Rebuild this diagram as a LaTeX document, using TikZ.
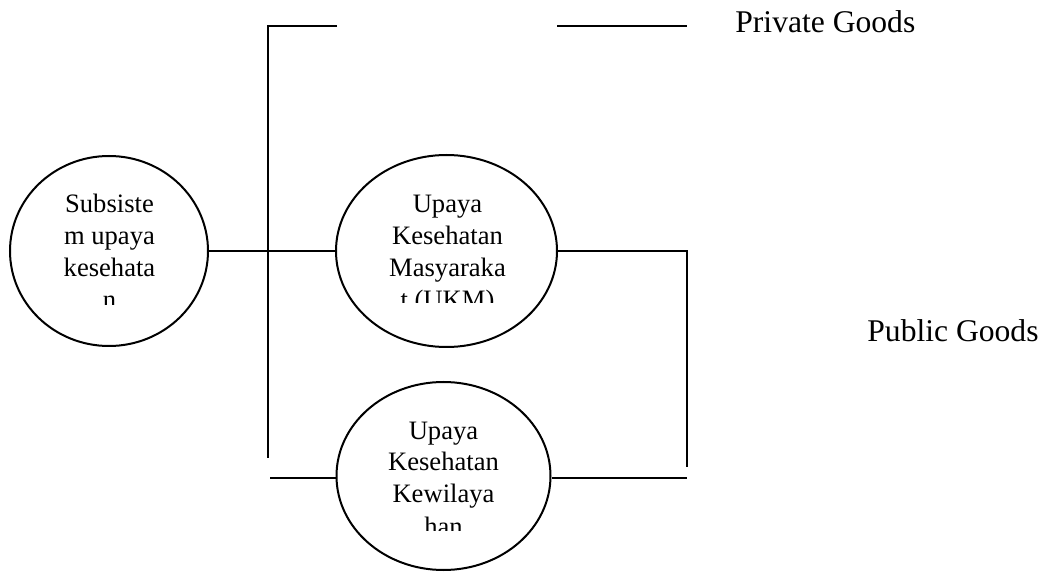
\documentclass[tikz,border=0pt]{standalone}
\usepackage{fontspec}
\setmainfont{Liberation Serif}
\usetikzlibrary{shapes.geometric}
\begin{document}
\begin{tikzpicture}[x=0.5pt,y=-0.5pt,
  conn/.style={line width=1pt},
  bubble/.style={ellipse, draw, line width=1pt, inner sep=0pt},
  bubbletext/.style={inner sep=0pt, anchor=base, font=\fontsize{13.3}{16}\selectfont},
  goodslabel/.style={inner sep=0pt, anchor=base west, font=\fontsize{15.8}{19}\selectfont}]
\useasboundingbox (0,0) rectangle (1045,572);

% the three subsystems
\node[bubble, minimum width=99pt, minimum height=95pt] (sub) at (109,251) {};
\node[bubble, minimum width=110.5pt, minimum height=96pt] (ukm) at (446.5,251) {};
\node[bubble, minimum width=107pt, minimum height=94pt] (ukw) at (443.5,476) {};

% wrapped captions, cut off at the bottom of their text boxes
\begin{scope}
  \clip (40,180) rectangle (180,305);
  \node[bubbletext] (subtext) at (109.5,213)
    {\begin{tabular}[t]{@{}c@{}}Subsiste\\m upaya\\kesehata\\n\end{tabular}};
\end{scope}
\begin{scope}
  \clip (370,180) rectangle (525,303);
  \node[bubbletext] (ukmtext) at (447.5,213)
    {\begin{tabular}[t]{@{}c@{}}Upaya\\Kesehatan\\Masyaraka\\t (UKM)\end{tabular}};
\end{scope}
\begin{scope}
  \clip (365,405) rectangle (522,530);
  \node[bubbletext] (ukwtext) at (443.5,439)
    {\begin{tabular}[t]{@{}c@{}}Upaya\\Kesehatan\\Kewilaya\\han\end{tabular}};
\end{scope}

% goods labels
\node[goodslabel] (private) at (735,33) {Private Goods};
\node[goodslabel] (public) at (867,342) {Public Goods};

% connector lines
\coordinate (tl) at (268,26);
\coordinate (tm) at (337,26);
\coordinate (tr1) at (557,26);
\coordinate (tr2) at (687,26);
\coordinate (vb) at (268,458);
\coordinate (rt) at (687,251);
\coordinate (rb) at (687,467);
\coordinate (bl) at (270,478);
\coordinate (br) at (687,478);

\draw[conn] (tm) -- (tl) -- (vb);
\draw[conn] (tr1) -- (tr2);
\draw[conn] (sub.east) -- (ukm.west);
\draw[conn] (ukm.east) -- (rt) -- (rb);
\draw[conn] (bl) -- (bl -| ukw.west);
\draw[conn] (ukw.east |- br) -- (br);
\end{tikzpicture}
\end{document}
